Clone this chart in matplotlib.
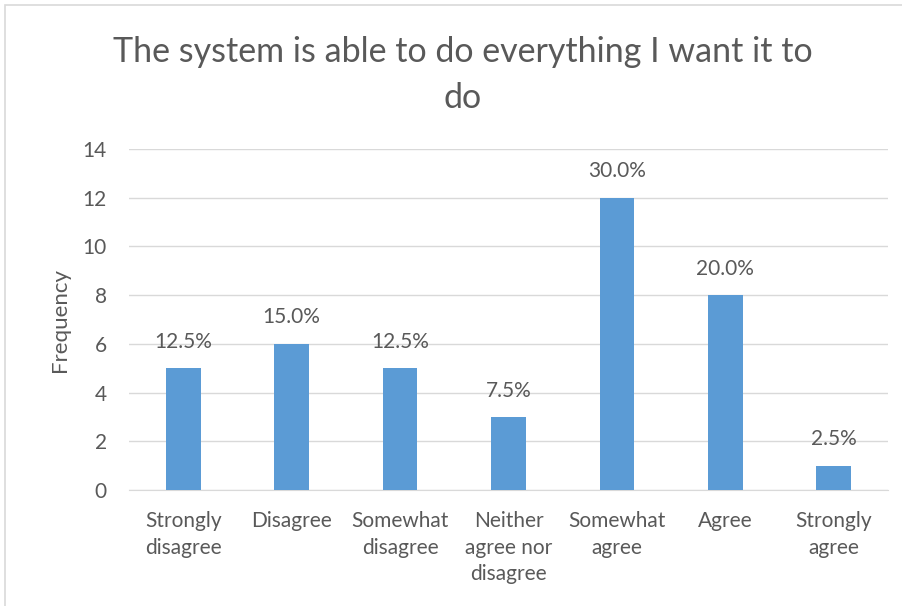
import matplotlib.pyplot as plt
from matplotlib.patches import Rectangle

categories = ["Strongly\ndisagree", "Disagree", "Somewhat\ndisagree",
              "Neither\nagree nor\ndisagree", "Somewhat\nagree", "Agree",
              "Strongly\nagree"]
frequency = [5, 6, 5, 3, 12, 8, 1]
percent_labels = ["12.5%", "15.0%", "12.5%", "7.5%", "30.0%", "20.0%", "2.5%"]

text_col = "#595959"
plt.rcParams['font.family'] = ['Lato', 'DejaVu Sans']

fig = plt.figure(figsize=(9.03, 6.06), dpi=100)
ax = fig.add_axes([129 / 903, 1 - 490 / 606, 759 / 903, 341 / 606])

# chart frame (only top and left edges show in the original crop)
fig.patches.append(Rectangle((5 / 903, -0.1), 1.2, 1.1 - 5 / 606, transform=fig.transFigure,
                             fill=False, edgecolor="#D9D9D9", linewidth=1.2))

x = range(len(categories))
bars = ax.bar(x, frequency, width=0.32, color="#5B9BD5", zorder=3)
for b, lab in zip(bars, percent_labels):
    ax.annotate(lab, (b.get_x() + b.get_width() / 2, b.get_height()),
                xytext=(0, 19), textcoords="offset points", ha="center", va="center",
                fontsize=15, color=text_col)

ax.set_xlim(-0.5, len(categories) - 0.5)
ax.set_ylim(0, 14)
ax.set_yticks(range(0, 15, 2))
ax.yaxis.grid(True, color="#D9D9D9", linewidth=1)
ax.set_axisbelow(True)
for s in ["top", "right", "left"]:
    ax.spines[s].set_visible(False)
ax.spines["bottom"].set_color("#D9D9D9")
ax.tick_params(axis="both", length=0, colors=text_col, labelsize=15)
ax.tick_params(axis="y", pad=16)
ax.tick_params(axis="x", pad=15)
ax.set_xticks(list(x))
ax.set_xticklabels(categories, linespacing=1.42)
ax.set_ylabel("Frequency", fontsize=16, color=text_col, labelpad=9)

fig.text(0.512, 0.915, "The system is able to do everything I want it to",
         ha="center", va="center", fontsize=24.5, color=text_col)
fig.text(0.512, 0.838, "do", ha="center", va="center", fontsize=24.5, color=text_col)

fig.savefig("out.png", dpi=100)
